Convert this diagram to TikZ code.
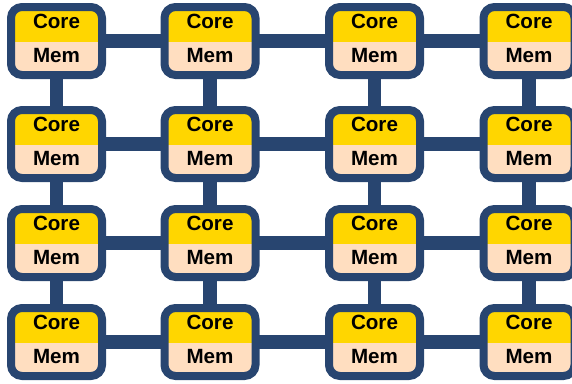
\documentclass[tikz,border=0pt]{standalone}
\usepackage{fontspec}
\setmainfont{Liberation Sans}
\definecolor{navy}{RGB}{40,69,112}
\definecolor{coreyellow}{RGB}{255,214,0}
\definecolor{mempeach}{RGB}{255,222,192}
\pgfdeclarelayer{links}
\pgfsetlayers{links,main}
\begin{document}
\begin{tikzpicture}[x=1pt,y=-1pt,
  tile/.style={draw=navy, line width=8pt, rounded corners=11pt,
    minimum width=91pt, minimum height=68pt, inner sep=0pt,
    path picture={
      \fill[coreyellow, sharp corners] (path picture bounding box.north west)
        rectangle ([yshift=-1pt]path picture bounding box.east);
      \fill[mempeach, sharp corners] ([yshift=-1pt]path picture bounding box.west)
        rectangle (path picture bounding box.south east);}},
  lbl/.style={anchor=base, inner sep=0pt, font=\fontsize{20.6}{24}\selectfont\bfseries, text=black},
  link/.style={draw=navy, line width=13.5pt}]
  \path[use as bounding box, clip] (0,0) rectangle (572,383);
  % 4x4 mesh of core/memory tiles
  \foreach \cx [count=\i] in {56.5,210,374.5,529} {
    \foreach \cy [count=\j] in {41,144,243,342} {
      \node[tile] (t\j\i) at (\cx,\cy) {};
      \node[lbl] (c\j\i) at (\cx,\cy-13) {Core};
      \node[lbl] (m\j\i) at (\cx,\cy+21.5) {Mem};
    }
  }
  % mesh links behind the tiles
  \begin{pgfonlayer}{links}
    \foreach \j in {1,...,4} {
      \foreach \i [evaluate=\i as \k using int(\i+1)] in {1,2,3} {
        \draw[link] (t\j\i.center) -- (t\j\k.center);
        \draw[link] (t\i\j.center) -- (t\k\j.center);
      }
    }
  \end{pgfonlayer}
\end{tikzpicture}
\end{document}
